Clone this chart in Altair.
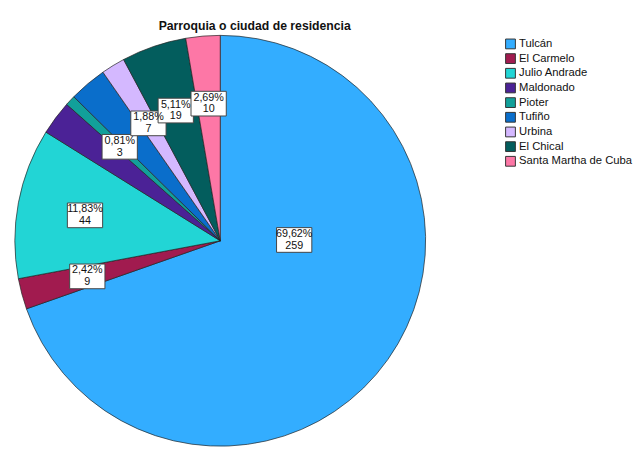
import altair as alt
import pandas as pd

categories = ["Tulcán", "El Carmelo", "Julio Andrade", "Maldonado", "Pioter",
              "Tufiño", "Urbina", "El Chical", "Santa Martha de Cuba"]
counts = [259, 9, 44, 10, 3, 11, 7, 19, 10]
pct_labels = ["69,62%", "2,42%", "11,83%", "", "0,81%", "", "1,88%", "5,11%", "2,69%"]
colors = ["#33adff", "#a11b4f", "#22d5d5", "#4b2296", "#12a09a",
          "#0a6ecb", "#d4b8ff", "#035d5d", "#fd77a6"]

df = pd.DataFrame({
    "cat": categories,
    "n": counts,
    "pct": pct_labels,
    "order": list(range(len(categories))),
})

CX, CY, R = 217, 198, 210
LR = 0.67

color_scale = alt.Scale(domain=categories, range=colors)

base = alt.Chart(df)

pie = base.mark_arc(radius=R, stroke="#222222", strokeWidth=0.7).encode(
    theta=alt.Theta("n:Q", stack=True),
    order=alt.Order("order:Q"),
    color=alt.Color("cat:N", scale=color_scale, sort=categories,
                    legend=alt.Legend(title=None, orient="none", legendX=508, legendY=-9,
                                      symbolType="square", symbolSize=100,
                                      symbolStrokeColor="#333333", symbolStrokeWidth=1,
                                      labelFont="Liberation Sans", labelFontSize=11.5,
                                      labelColor="#111111", rowPadding=0, labelOffset=3,
                                      symbolOpacity=1)),
    x=alt.value(CX), y=alt.value(CY),
)

lab = base.transform_window(
    cum="sum(n)", sort=[alt.SortField("order")], frame=[None, 0]
).transform_joinaggregate(
    tot="sum(n)"
).transform_calculate(
    mid="2*PI*(datum.cum - datum.n/2)/datum.tot",
    rr=f"datum.order == 0 ? 0.36 : {LR}",
    ang="datum.order == 0 ? 1.56 : datum.mid",
    lx="datum.rr*sin(datum.ang)",
    ly="datum.rr*cos(datum.ang)",
    line2="datum.n + ''",
).transform_filter("datum.pct != ''")

xs = alt.Scale(domain=[-1, 1], range=[CX - R, CX + R])
ys = alt.Scale(domain=[-1, 1], range=[CY + R, CY - R])

boxes = lab.mark_point(
    shape="M-1,-0.7H1V0.7H-1Z", size=1300, filled=True, fill="white",
    stroke="#444444", strokeWidth=1, opacity=1
).encode(
    x=alt.X("lx:Q", scale=xs, axis=None),
    y=alt.Y("ly:Q", scale=ys, axis=None),
)

t1 = lab.mark_text(font="Liberation Sans", fontSize=11, color="#111111", dy=-6).encode(
    x=alt.X("lx:Q", scale=xs, axis=None),
    y=alt.Y("ly:Q", scale=ys, axis=None),
    text="pct:N",
)
t2 = lab.mark_text(font="Liberation Sans", fontSize=11, color="#111111", dy=6).encode(
    x=alt.X("lx:Q", scale=xs, axis=None),
    y=alt.Y("ly:Q", scale=ys, axis=None),
    text="line2:N",
)

chart = alt.layer(pie, boxes, t1, t2).properties(
    width=600, height=400,
    padding={"top": 7, "left": 0, "right": 0, "bottom": 0},
    title=alt.TitleParams("Parroquia o ciudad de residencia", font="Liberation Sans",
                          fontSize=12.5, fontWeight="bold", color="#111111",
                          anchor="start", dx=154, offset=1.5),
).configure(background="white", view=alt.ViewConfig(stroke=None))

chart.save("out.html", embed_options={"renderer": "svg", "actions": False})
